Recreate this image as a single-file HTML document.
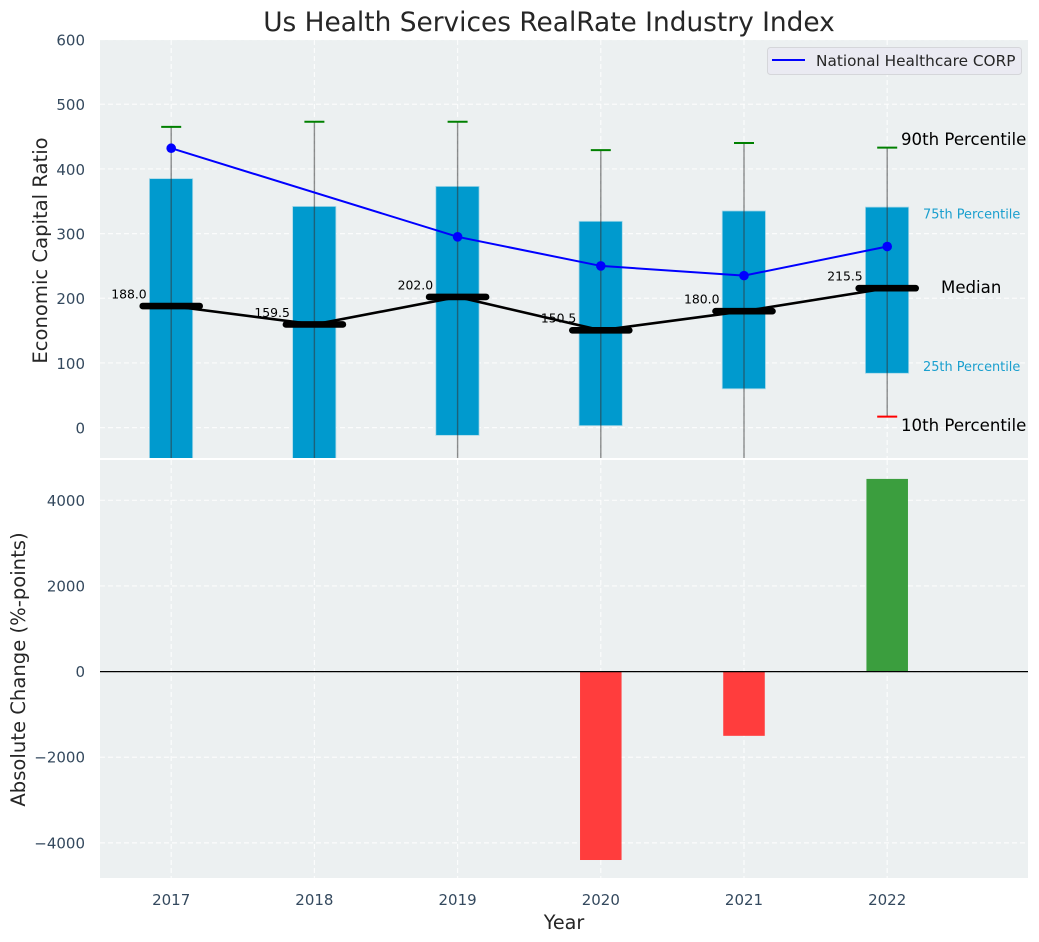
<!DOCTYPE html>
<html>
<head>
<meta charset="utf-8">
<title>Us Health Services RealRate Industry Index</title>
<style>
html,body{margin:0;padding:0;background:#fff;}
svg{display:block;}
text{font-family:"DejaVu Sans","Liberation Sans",sans-serif;}
</style>
</head>
<body>
<svg id="chart" xmlns="http://www.w3.org/2000/svg" width="1039" height="942" viewBox="0 0 1039 942">
  <defs>
    <clipPath id="clip-top"><rect x="100" y="40" width="928" height="418"/></clipPath>
    <clipPath id="clip-bottom"><rect x="100" y="460" width="928" height="418"/></clipPath>
  </defs>
  <rect x="100" y="40" width="928" height="418" fill="#ecf0f1"/>
  <rect x="100" y="460" width="928" height="418" fill="#ecf0f1"/>
  <g id="grid"></g>
  <g id="top" clip-path="url(#clip-top)"></g>
  <g id="bottom" clip-path="url(#clip-bottom)"></g>
  <g id="labels"></g>
  <text x="549" y="31" text-anchor="middle" font-size="26.400" fill="#262626">Us Health Services RealRate Industry Index</text>
  <text transform="translate(47,250.500) rotate(-90)" text-anchor="middle" font-size="19.600" fill="#262626">Economic Capital Ratio</text>
  <text transform="translate(25,669.500) rotate(-90)" text-anchor="middle" font-size="19.600" fill="#262626">Absolute Change (%-points)</text>
  <text x="564" y="929" text-anchor="middle" font-size="19.200" fill="#262626">Year</text>
  <g>
    <rect x="767.500" y="47.500" width="254" height="27" rx="3" fill="#eaeaf2" stroke="#d5d6da" stroke-width="1"/>
    <line x1="772" y1="60" x2="805" y2="60" stroke="#0000ff" stroke-width="2"/>
    <text x="816" y="66" font-size="15.300" fill="#262626">National Healthcare CORP</text>
  </g>
</svg>
<script>
const years = [2017, 2018, 2019, 2020, 2021, 2022];
const p90 = [465, 473, 473, 429, 440, 433];
const q75 = [385, 342, 373, 319, 335, 341];
const medians = [188, 159.5, 202, 150.5, 180, 215.5];
const q25 = [-90, -70, -12, 3, 60, 84];
const p10 = [-150, -140, -110, -90, -60, 17];
const company = [432, null, 295, 250, 235, 280];
const changes = [0, 0, 0, -4400, -1500, 4500];
const topTicks = [0, 100, 200, 300, 400, 500, 600];
const bottomTicks = [-4000, -2000, 0, 2000, 4000];
const bottomTickLabels = ['\u22124000', '\u22122000', '0', '2000', '4000'];

const NS = 'http://www.w3.org/2000/svg';
const xS = v => 171.2 + (v - 2017) * 143.2;
const yT = v => 427.6 - v * 0.6467;
const yB = v => 671.6 - v * 0.04282;

function el(parent, tag, attrs, text) {
  const e = document.createElementNS(NS, tag);
  for (const k in attrs) e.setAttribute(k, attrs[k]);
  if (text !== undefined) e.textContent = text;
  parent.appendChild(e);
  return e;
}

const grid = document.getElementById('grid');
const topG = document.getElementById('top');
const botG = document.getElementById('bottom');
const labels = document.getElementById('labels');
const gridStyle = {stroke: '#ffffff', 'stroke-width': 1.2, 'stroke-dasharray': '5 3', opacity: 0.8};

topTicks.forEach(t => {
  const g = el(grid, 'line', Object.assign({x1: 100, x2: 1028, y1: yT(t), y2: yT(t)}, gridStyle));
  
  
  const l = el(labels, 'text', {x: 85, y: yT(t) + 5.9, 'text-anchor': 'end', 'font-size': 15, fill: '#34495e'}, String(t));
  
  
});
bottomTicks.forEach((t, i) => {
  const g = el(grid, 'line', Object.assign({x1: 100, x2: 1028, y1: yB(t), y2: yB(t)}, gridStyle));
  
  
  const l = el(labels, 'text', {x: 85, y: yB(t) + 5.5, 'text-anchor': 'end', 'font-size': 15, fill: '#34495e'}, bottomTickLabels[i]);
  
  
});
years.forEach(y => {
  const a = el(grid, 'line', Object.assign({x1: xS(y), x2: xS(y), y1: 40, y2: 458}, gridStyle));
  
  
  const b = el(grid, 'line', Object.assign({x1: xS(y), x2: xS(y), y1: 460, y2: 878}, gridStyle));
  
  
  const l = el(labels, 'text', {x: xS(y), y: 905, 'text-anchor': 'middle', 'font-size': 15, fill: '#34495e'}, String(y));
  
  
});

const halfBox = 0.15 * 143.2;
years.forEach((y, i) => {
  const box = el(topG, 'rect', {x: xS(y) - halfBox - 0.3, y: yT(q75[i]), width: halfBox * 2 + 0.3, height: yT(q25[i]) - yT(q75[i]), fill: '#009ace', stroke: '#a8d8e8', 'stroke-width': 0.8});
  
  
  const w = el(topG, 'line', {x1: xS(y), x2: xS(y), y1: yT(p90[i]), y2: yT(p10[i]), stroke: '#333333', 'stroke-opacity': 0.55, 'stroke-width': 1.4});
  
  
  const c1 = el(topG, 'line', {x1: xS(y) - 10, x2: xS(y) + 10, y1: yT(p90[i]), y2: yT(p90[i]), stroke: '#008000', 'stroke-width': 2});
  
  
  const c2 = el(topG, 'line', {x1: xS(y) - 10, x2: xS(y) + 10, y1: yT(p10[i]), y2: yT(p10[i]), stroke: '#ff0000', 'stroke-width': 2});
  
  
});

const medLine = el(topG, 'polyline', {points: years.map((y, i) => xS(y) + ',' + yT(medians[i])).join(' '), fill: 'none', stroke: '#000000', 'stroke-width': 2.6});



years.forEach((y, i) => {
  const m = el(topG, 'line', {x1: xS(y) - 28.5, x2: xS(y) + 28.5, y1: yT(medians[i]), y2: yT(medians[i]), stroke: '#000000', 'stroke-width': 6.6, 'stroke-linecap': 'round'});
  
  
  const t = el(labels, 'text', {x: xS(y) - 24.5, y: yT(medians[i]) - 7.6, 'text-anchor': 'end', 'font-size': 12.4, fill: '#000000'}, medians[i].toFixed(1));
  
  
});

const companyYears = years.filter((y, i) => company[i] !== null);
const companyVals = company.filter(v => v !== null);
const blue = el(topG, 'polyline', {points: companyYears.map((y, i) => xS(y) + ',' + yT(companyVals[i])).join(' '), fill: 'none', stroke: '#0000ff', 'stroke-width': 2});


companyYears.forEach((y, i) => {
  const p = el(topG, 'circle', {cx: xS(y), cy: yT(companyVals[i]), r: 4.8, fill: '#0000ff'});
  
  
});

years.forEach((y, i) => {
  if (!changes[i]) return;
  const v = changes[i];
  const top = Math.min(yB(v), yB(0));
  const b = el(botG, 'rect', {x: xS(y) - 0.145 * 143.2, y: top, width: 0.29 * 143.2, height: Math.abs(yB(v) - yB(0)), fill: v < 0 ? '#ff3d3d' : '#3b9e3e'});
  
  
});
const zero = el(botG, 'line', {x1: 100, x2: 1028, y1: yB(0), y2: yB(0), stroke: '#000000', 'stroke-width': 1.3});



const last = years.length - 1;
const a90 = el(labels, 'text', {x: 901, y: yT(p90[last]) - 2.6, 'font-size': 16.6, fill: '#000000'}, '90th Percentile');


const a75 = el(labels, 'text', {x: 923, y: yT(q75[last]) + 11.4, 'font-size': 12.9, fill: '#1a9fce'}, '75th Percentile');


const aMed = el(labels, 'text', {x: 941, y: yT(medians[last]) + 4.9, 'font-size': 16.6, fill: '#000000'}, 'Median');


const a25 = el(labels, 'text', {x: 923, y: yT(q25[last]) - 2.1, 'font-size': 12.9, fill: '#1a9fce'}, '25th Percentile');


const a10 = el(labels, 'text', {x: 901, y: yT(p10[last]) + 14.4, 'font-size': 16.6, fill: '#000000'}, '10th Percentile');


</script>
</body>
</html>
